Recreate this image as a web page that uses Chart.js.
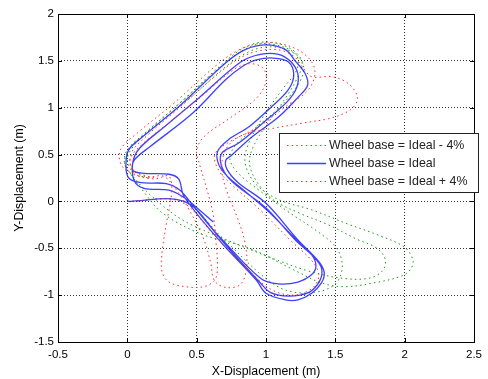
<!DOCTYPE html>
<html>
<head>
<meta charset="utf-8">
<script src="https://cdn.jsdelivr.net/npm/chart.js@4.4.1/dist/chart.umd.min.js"></script>
<style>
  html, body { margin: 0; padding: 0; background: #fff; }
  #wrap { width: 488px; height: 379px; position: relative; }
</style>
</head>
<body>
<div id="wrap"><canvas id="c" width="488" height="379"></canvas></div>
<script>
// Axis ticks
const xTickValues = [-0.5, 0, 0.5, 1, 1.5, 2, 2.5];
const xTickLabels = ['-0.5', '0', '0.5', '1', '1.5', '2', '2.5'];
const yTickValues = [-1.5, -1, -0.5, 0, 0.5, 1, 1.5, 2];
const yTickLabels = ['-1.5', '-1', '-0.5', '0', '0.5', '1', '1.5', '2'];

const seriesLabels = ['Wheel base = Ideal - 4%', 'Wheel base = Ideal', 'Wheel base = Ideal + 4%'];

// Wheel base = Ideal - 4% (m)
const redX = [0, 0.38,
  0.62, 0.92, 1.05, 1.20, 1.33, 1.38, 1.34, 1.18, 0.95, 0.76, 0.66, 0.63, 0.72, 0.95, 1.14, 1.31, 1.35, 1.25, 1.07, 0.90, 0.76, 0.60, 0.33, 0.08, -0.05, -0.04, 0.06, 0.20, 0.30, 0.32,
  0.28, 0.25, 0.25, 0.30, 0.42, 0.55, 0.63, 0.65, 0.64, 0.62, 0.57, 0.52, 0.50, 0.56, 0.75, 0.93, 1.00, 0.98, 0.88, 0.76, 0.55, 0.30, 0.10, 0.02, 0.05, 0.15, 0.26, 0.34,
  0.45, 0.55, 0.60, 0.63, 0.72, 0.82, 0.86, 0.85, 0.80, 0.72, 0.68, 0.72, 0.85, 1.05, 1.28, 1.47, 1.61, 1.66, 1.60, 1.48, 1.33, 1.27, 1.20, 1.08, 0.93, 0.80, 0.62, 0.36, 0.14, 0.03, 0.03, 0.12, 0.22];
const redY = [0, 0,
  -0.35, -0.80, -0.95, -1.00, -0.93, -0.80, -0.65, -0.42, -0.08, 0.17, 0.33, 0.50, 0.62, 0.80, 1.01, 1.20, 1.42, 1.60, 1.69, 1.67, 1.58, 1.40, 1.04, 0.74, 0.55, 0.38, 0.28, 0.24, 0.27, 0.10,
  -0.25, -0.55, -0.75, -0.86, -0.91, -0.91, -0.84, -0.70, -0.45, -0.15, 0.15, 0.40, 0.55, 0.70, 0.90, 1.10, 1.28, 1.42, 1.47, 1.40, 1.14, 0.84, 0.60, 0.45, 0.32, 0.26, 0.27, 0.15,
  -0.10, -0.40, -0.65, -0.85, -0.92, -0.88, -0.70, -0.45, -0.20, 0.10, 0.35, 0.58, 0.72, 0.78, 0.84, 0.89, 0.98, 1.10, 1.25, 1.33, 1.33, 1.42, 1.55, 1.62, 1.60, 1.52, 1.32, 0.98, 0.70, 0.52, 0.36, 0.28, 0.25];

// Wheel base = Ideal (m)
const blueX = [0, 0.41,
  0.66, 0.96, 1.09, 1.23, 1.33, 1.36, 1.33, 1.20, 1.02, 0.84, 0.72, 0.66, 0.65, 0.73, 0.88, 1.04, 1.16, 1.20, 1.16, 1.05, 0.93, 0.84, 0.71, 0.47, 0.16, 0.05, 0.04, 0.12, 0.30, 0.37, 0.41,
  0.66, 0.93, 1.00, 1.14, 1.23, 1.33, 1.40, 1.42, 1.38, 1.23, 1.00, 0.80, 0.72, 0.71, 0.75, 0.90, 1.09, 1.23, 1.30, 1.28, 1.21, 1.14, 1.00, 0.85, 0.71, 0.37, 0.11, 0.01, -0.01, 0.01, 0.10, 0.28, 0.38, 0.46,
  0.73, 0.96, 1.03, 1.16, 1.31, 1.39, 1.40, 1.35, 1.21, 1.00, 0.78, 0.70, 0.67, 0.69, 0.80, 0.98, 1.15, 1.22, 1.23, 1.18, 1.09, 0.96, 0.82, 0.52, 0.27, 0.09, 0.04, 0.05, 0.12, 0.30, 0.40, 0.48, 0.62];
const blueY = [0, 0,
  -0.37, -0.82, -0.88, -0.86, -0.78, -0.69, -0.57, -0.38, -0.11, 0.12, 0.27, 0.39, 0.53, 0.66, 0.80, 1.01, 1.19, 1.35, 1.49, 1.53, 1.51, 1.45, 1.30, 0.94, 0.58, 0.44, 0.33, 0.30, 0.29, 0.24, 0.05,
  -0.41, -0.84, -0.98, -1.05, -1.05, -0.98, -0.87, -0.76, -0.64, -0.41, -0.02, 0.20, 0.34, 0.44, 0.49, 0.69, 0.90, 1.11, 1.24, 1.37, 1.50, 1.62, 1.67, 1.62, 1.48, 1.01, 0.69, 0.55, 0.39, 0.25, 0.20, 0.19, 0.12, -0.02,
  -0.50, -0.87, -0.97, -1.01, -0.97, -0.84, -0.71, -0.60, -0.41, -0.07, 0.18, 0.31, 0.44, 0.53, 0.62, 0.84, 1.06, 1.21, 1.36, 1.49, 1.57, 1.57, 1.49, 1.11, 0.80, 0.57, 0.42, 0.22, 0.14, 0.12, 0.05, -0.04, -0.22];

// Wheel base = Ideal + 4% (m)
const greenX = [0, 0.40,
  0.68, 0.98, 1.15, 1.35, 1.50, 1.55, 1.51, 1.38, 1.15, 0.95, 0.80, 0.74, 0.78, 0.92, 1.08, 1.20, 1.27, 1.24, 1.12, 0.97, 0.83, 0.68, 0.40, 0.14, 0.02, -0.02, 0.03,
  0.12, 0.25, 0.52, 0.88, 1.20, 1.40, 1.57, 1.81, 1.97, 2.04, 2.06, 2.00, 1.81, 1.57, 1.33, 1.09, 0.93, 0.86, 0.85, 0.90, 1.00, 1.12, 1.22, 1.22, 1.10, 0.95, 0.82, 0.66, 0.38, 0.12, 0.00, -0.02, 0.05,
  0.18, 0.40, 0.70, 1.00, 1.30, 1.55, 1.74, 1.84, 1.86, 1.80, 1.65, 1.45, 1.25, 1.05, 0.93, 0.88, 0.92, 1.02, 1.13, 1.22, 1.26, 1.18, 1.03, 0.88, 0.72, 0.45, 0.18, 0.05, 0.00, 0.05, 0.15];
const greenY = [0, 0,
  -0.38, -0.80, -0.95, -0.97, -0.88, -0.70, -0.50, -0.33, -0.10, 0.12, 0.30, 0.45, 0.60, 0.78, 0.98, 1.18, 1.38, 1.55, 1.67, 1.70, 1.63, 1.46, 1.08, 0.74, 0.57, 0.42, 0.28,
  0.10, -0.12, -0.34, -0.50, -0.73, -0.87, -0.91, -0.86, -0.80, -0.73, -0.63, -0.49, -0.36, -0.23, -0.09, 0.02, 0.18, 0.35, 0.50, 0.70, 0.95, 1.20, 1.40, 1.56, 1.66, 1.68, 1.60, 1.42, 1.05, 0.72, 0.55, 0.40, 0.25,
  0.05, -0.20, -0.40, -0.58, -0.74, -0.82, -0.82, -0.74, -0.62, -0.50, -0.40, -0.25, -0.13, 0.02, 0.22, 0.42, 0.62, 0.85, 1.08, 1.30, 1.48, 1.60, 1.65, 1.60, 1.45, 1.10, 0.78, 0.60, 0.45, 0.30, 0.25];

const toPoints = (xs, ys) => xs.map((x, i) => ({ x: x, y: ys[i] }));

const FONT_FAMILY = '"Liberation Sans", Arial, Helvetica, sans-serif';
const TICK_FONT = { family: FONT_FAMILY, size: 11.5 };
const TITLE_FONT = { family: FONT_FAMILY, size: 12.3 };
const LEGEND_SIZE = 12.4;

// Axes box with inward tick marks, drawn over the traces
const boxPlugin = {
  id: 'axesBox',
  afterDatasetsDraw(chart) {
    const { ctx, chartArea: a, scales } = chart;
    ctx.save();
    ctx.strokeStyle = '#000';
    ctx.lineWidth = 1;
    ctx.setLineDash([]);
    ctx.strokeRect(Math.round(a.left) + 0.5, Math.round(a.top) + 0.5,
                   Math.round(a.right - a.left), Math.round(a.bottom - a.top));
    const len = 4;
    ctx.beginPath();
    xTickValues.forEach(v => {
      const px = Math.round(scales.x.getPixelForValue(v)) + 0.5;
      ctx.moveTo(px, a.bottom); ctx.lineTo(px, a.bottom - len);
      ctx.moveTo(px, a.top); ctx.lineTo(px, a.top + len);
    });
    yTickValues.forEach(v => {
      const py = Math.round(scales.y.getPixelForValue(v)) + 0.5;
      ctx.moveTo(a.left, py); ctx.lineTo(a.left + len, py);
      ctx.moveTo(a.right, py); ctx.lineTo(a.right - len, py);
    });
    ctx.stroke();
    ctx.restore();
  }
};

// Boxed legend in the right half of the plot
const legendPlugin = {
  id: 'boxedLegend',
  afterDraw(chart) {
    const { ctx } = chart;
    const bx = 279, by = 133, bw = 199, bh = 59;
    ctx.save();
    ctx.fillStyle = '#fff';
    ctx.fillRect(bx, by, bw, bh);
    ctx.strokeStyle = '#222';
    ctx.lineWidth = 1;
    ctx.setLineDash([]);
    ctx.strokeRect(bx + 0.5, by + 0.5, bw, bh);
    ctx.font = LEGEND_SIZE + 'px ' + FONT_FAMILY;
    ctx.textBaseline = 'middle';
    ctx.textAlign = 'left';
    chart.data.datasets.forEach((ds, i) => {
      const y = 145.5 + i * 18;
      ctx.beginPath();
      ctx.strokeStyle = ds.borderColor;
      ctx.lineWidth = ds.borderWidth;
      ctx.setLineDash(ds.borderDash || []);
      ctx.moveTo(287, y);
      ctx.lineTo(326, y);
      ctx.stroke();
      ctx.setLineDash([]);
      ctx.fillStyle = '#222';
      ctx.fillText(ds.label, 329, y);
    });
    ctx.restore();
  }
};

const gridOpts = { color: 'rgba(0,0,0,0.8)', lineWidth: 1, drawTicks: false };

new Chart(document.getElementById('c'), {
  type: 'scatter',
  data: {
    datasets: [
      { label: seriesLabels[0], data: toPoints(redX, redY), showLine: true,
        borderColor: '#ff2a2a', borderWidth: 1, borderDash: [1.5, 3.2], tension: 0.35 },
      { label: seriesLabels[1], data: toPoints(blueX, blueY), showLine: true,
        borderColor: 'rgba(30,30,255,0.85)', borderWidth: 1.3, tension: 0.35 },
      { label: seriesLabels[2], data: toPoints(greenX, greenY), showLine: true,
        borderColor: '#149c14', borderWidth: 1, borderDash: [1.5, 3.2], tension: 0.35 }
    ]
  },
  options: {
    responsive: false,
    animation: false,
    devicePixelRatio: 1,
    layout: { padding: { left: 0, right: 12, top: 14, bottom: 0 } },
    elements: { point: { radius: 0, hoverRadius: 0 } },
    plugins: { legend: { display: false }, tooltip: { enabled: false } },
    scales: {
      x: {
        type: 'linear', min: -0.5, max: 2.5,
        afterFit(s) { s.height = 37; },
        afterBuildTicks(s) { s.ticks = xTickValues.map(v => ({ value: v })); },
        ticks: { callback: (v, i) => xTickLabels[i], font: TICK_FONT, color: '#000',
                 padding: 6, maxRotation: 0, autoSkip: false },
        grid: gridOpts,
        border: { display: false, dash: [1, 2] },
        title: { display: true, text: 'X-Displacement (m)', font: TITLE_FONT, color: '#000',
                 padding: { top: 0, bottom: 0 } }
      },
      y: {
        type: 'linear', min: -1.5, max: 2,
        afterFit(s) { s.width = 58; },
        afterBuildTicks(s) { s.ticks = yTickValues.map(v => ({ value: v })); },
        ticks: { callback: (v, i) => yTickLabels[i], font: TICK_FONT, color: '#000',
                 padding: 4, autoSkip: false },
        grid: gridOpts,
        border: { display: false, dash: [1, 2] },
        title: { display: true, text: 'Y-Displacement (m)', font: TITLE_FONT, color: '#000',
                 padding: { top: 12, bottom: 0 } }
      }
    }
  },
  plugins: [boxPlugin, legendPlugin]
});
</script>
</body>
</html>
